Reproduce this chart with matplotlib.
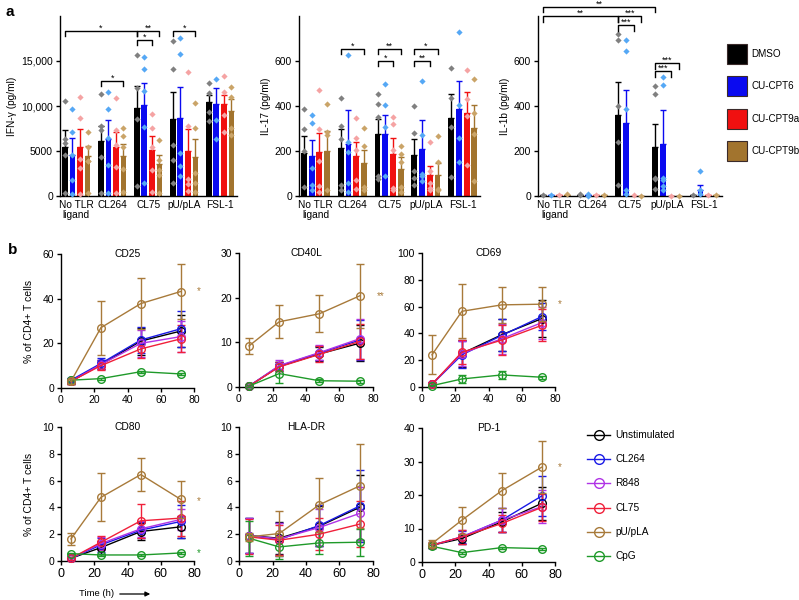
import numpy as np
import matplotlib
matplotlib.use("Agg")
import matplotlib.pyplot as plt
from matplotlib.patches import Rectangle, FancyArrowPatch
from matplotlib.lines import Line2D

plt.rcParams['font.family'] = ['Liberation Sans', 'DejaVu Sans']

W, H = 799, 600

# ---------------- Panel a data ----------------
groups_a = ["No TLR\nligand", "CL264", "CL75", "pU/pLA", "FSL-1"]
treatments = ["DMSO", "CU-CPT6", "CU-CPT9a", "CU-CPT9b"]
bar_colors = ["#000000", "#0a0af0", "#f01010", "#a2742e"]
dot_colors = ["#808080", "#55a8f5", "#f5a3a3", "#caa468"]

ifn_mean = [[5500, 6100, 9800, 8500, 10400],
            [4600, 6300, 10100, 8700, 10200],
            [5500, 5400, 5100, 5000, 10200],
            [4400, 4500, 3600, 4300, 9400]]
ifn_err = [[1800, 1700, 2400, 3000, 800],
           [1800, 2100, 2500, 3400, 1800],
           [2000, 1700, 1600, 2500, 1000],
           [1200, 1300, 1000, 2000, 1400]]
ifn_dots = [[[10600, 6300, 5900, 4600, 300], [11300, 7800, 7300, 4300, 300], [15700, 12000, 8500, 1100], [17200, 14100, 5700, 4000, 1400], [12500, 11400, 9300, 8300]],
            [[9700, 7100, 4600, 1800, 200], [11500, 9700, 6500, 3500, 300], [15400, 14100, 11700, 7700, 1400], [17600, 15800, 4800, 3300, 2200], [13000, 8400, 6300]],
            [[11000, 8700, 4100, 3100, 200], [10900, 7300, 5700, 3200, 300], [9100, 7600, 5500, 2900, 500], [13800, 7800, 1900, 1300, 600], [13300, 11500, 9000, 7100]],
            [[7100, 5500, 3900, 3900, 300], [7600, 6700, 5400, 3000, 400], [6200, 4000, 2900, 2300, 300], [10300, 7600, 2600, 1500, 500], [12100, 11000, 7600, 6800]]]

il17_mean = [[193, 213, 274, 184, 348],
             [176, 230, 277, 207, 385],
             [196, 178, 185, 92, 370],
             [200, 148, 121, 95, 304]]
il17_err = [[72, 86, 70, 71, 104],
            [71, 151, 82, 129, 126],
            [85, 62, 73, 40, 92],
            [89, 55, 52, 52, 102]]
il17_dots = [[[388, 296, 200, 40], [435, 310, 253, 50, 25], [452, 407, 350, 90, 75], [398, 282, 112, 78, 48], [567, 437, 308, 85]],
             [[358, 325, 125, 50, 25], [628, 240, 195, 60, 20], [496, 406, 307, 90], [512, 273, 100, 90, 65], [728, 405, 258, 150]],
             [[469, 296, 155, 45, 20], [347, 260, 205, 70, 30], [353, 318, 205, 35, 25], [240, 110, 60, 35, 25], [560, 432, 355, 140]],
             [[410, 285, 270, 25], [302, 222, 40, 25], [224, 188, 150, 40, 20], [265, 152, 30, 25], [522, 370, 275, 65]]]

il1b_mean = [[3, 5, 358, 218, 3],
             [3, 4, 324, 233, 25],
             [3, 3, 2, 1, 4],
             [5, 3, 1, 1, 6]]
il1b_err = [[0, 0, 149, 103, 0],
            [0, 0, 149, 148, 25],
            [0, 0, 0, 0, 0],
            [0, 0, 0, 0, 0]]
il1b_dots = [[[3], [10, 3], [722, 692, 400, 240, 50], [490, 452, 80, 75, 30], [4]],
             [[3], [8, 2], [692, 645, 385, 25, 10], [530, 493, 82, 70, 45, 25], [113, 25, 10]],
             [[3], [3], [3], [2], [4]],
             [[7], [4], [2], [2], [5]]]

# ---------------- Panel b data ----------------
times = [6, 24, 48, 72]
stim = ["Unstimulated", "CL264", "R848", "CL75", "pU/pLA", "CpG"]
line_colors = ["#000000", "#1a1ae6", "#b033e6", "#f0203a", "#a87a3a", "#1f9a2a"]

markers_b = {
    "CD25": dict(ylim=60, yt=[0, 20, 40, 60],
                 mean=[[3, 10.5, 21, 25.5], [3.5, 11, 21.5, 26.5], [3, 10.5, 20, 23], [3, 10, 17.5, 22], [3, 27, 37.8, 43.2], [3.5, 4.2, 7.3, 6.3]],
                 err=[[1, 2, 6, 7], [1, 2.5, 6, 8], [1, 2, 6, 7], [1, 2, 4, 6], [1, 12, 11.5, 12.3], [0.5, 0.5, 0.5, 0.5]]),
    "CD40L": dict(ylim=30, yt=[0, 10, 20, 30],
                  mean=[[0.2, 4.6, 7.4, 9.8], [0.2, 4.7, 7.6, 10.5], [0.2, 4.8, 7.7, 10.8], [0.2, 4.5, 7.3, 10.2], [9.2, 14.6, 16.4, 20.4], [0.2, 3.0, 1.4, 1.3]],
                  err=[[0.2, 1, 1.5, 4], [0.2, 1, 1.5, 4.5], [0.2, 1.2, 1.6, 4.5], [0.2, 1, 1.8, 4], [1.8, 3.7, 4.1, 7.2], [0.2, 2.2, 0.3, 0.3]]),
    "CD69": dict(ylim=100, yt=[0, 20, 40, 60, 80, 100],
                 mean=[[2, 25, 39, 51], [2, 24, 38.5, 52.5], [2, 25, 36, 48], [2, 26, 35, 46], [24, 56.5, 61.3, 61.8], [1, 6, 9, 7.3]],
                 err=[[1, 10, 12, 14], [1, 10, 12, 10], [1, 9, 11, 12], [1, 9, 11, 12], [14.5, 20, 13.5, 12.7], [0.5, 3, 3, 1]]),
    "CD80": dict(ylim=10, yt=[0, 2, 4, 6, 8, 10],
                 mean=[[0.2, 1.0, 2.2, 2.55], [0.2, 1.2, 2.3, 2.95], [0.2, 1.3, 2.4, 3.1], [0.2, 1.4, 3.0, 3.2], [1.65, 4.75, 6.45, 4.6], [0.55, 0.45, 0.45, 0.6]],
                 err=[[0.1, 0.5, 0.6, 0.8], [0.1, 0.5, 0.6, 1.2], [0.1, 0.5, 0.6, 0.8], [0.1, 0.5, 1.25, 1.3], [0.45, 1.8, 1.2, 1.4], [0.05, 0.05, 0.05, 0.05]]),
    "HLA-DR": dict(ylim=10, yt=[0, 2, 4, 6, 8, 10],
                   mean=[[1.9, 1.7, 2.6, 4.0], [1.9, 1.6, 2.65, 4.1], [1.9, 1.65, 2.5, 3.55], [1.8, 1.55, 2.0, 2.75], [1.8, 2.05, 4.2, 5.6], [1.7, 1.05, 1.35, 1.4]],
                   err=[[1.3, 1.2, 1.5, 2.4], [1.3, 1.25, 1.5, 2.7], [1.3, 1.2, 1.4, 2.0], [1.3, 1.1, 1.2, 1.7], [0.3, 1.65, 2.0, 3.1], [1.3, 0.9, 0.8, 1.0]]),
    "PD-1": dict(ylim=40, yt=[0, 10, 20, 30, 40],
                 mean=[[5, 7, 12, 17.5], [5, 7.5, 12.5, 19.7], [5, 7.5, 12.5, 16.5], [5, 7.5, 11.5, 16.3], [5.5, 12.5, 21.3, 28.3], [4.7, 2.8, 4.3, 4.0]],
                 err=[[0.8, 1.5, 3, 5], [0.8, 1.8, 3.5, 6], [0.8, 2, 3.5, 5], [0.8, 2, 2.5, 4], [1, 4, 5.2, 7.7], [0.3, 0.3, 0.3, 0.3]]),
}

fig = plt.figure(figsize=(W / 100, H / 100), dpi=100)


def add_ax(left, right, top, bottom):
    return fig.add_axes([left / W, 1 - bottom / H, (right - left) / W, (bottom - top) / H])


def style_ax(ax, fs=7.5):
    for s in ["top", "right"]:
        ax.spines[s].set_visible(False)
    for s in ["left", "bottom"]:
        ax.spines[s].set_linewidth(1.0)
    ax.tick_params(direction="out", length=3, width=1.0, labelsize=fs, pad=2)


offsets = [-0.315, -0.105, 0.105, 0.315]
bw = 0.16


def bar_panel(ax, mean, err, dots, ymax, yticks, yticklabels, ylabel):
    x = np.arange(len(groups_a))
    for t in range(4):
        xs = x + offsets[t]
        ax.bar(xs, mean[t], width=bw, color=bar_colors[t], zorder=2)
        ax.errorbar(xs, mean[t], yerr=[np.zeros(len(x)), err[t]], fmt="none",
                    ecolor=bar_colors[t], elinewidth=1.0, capsize=2, capthick=1.0, zorder=2)
        for g in range(len(x)):
            d = dots[t][g]
            ax.scatter([xs[g]] * len(d), d, marker="D", s=10, color=dot_colors[t],
                       linewidths=0, zorder=3, clip_on=False)
    ax.set_xlim(-0.45, 4.47)
    ax.set_ylim(0, ymax)
    ax.set_xticks(x)
    ax.set_xticklabels(groups_a, linespacing=1.0)
    ax.set_yticks(yticks)
    ax.set_yticklabels(yticklabels)
    ax.set_ylabel(ylabel, fontsize=7.3, labelpad=3)
    style_ax(ax)
    ax.tick_params(axis="x", length=0, labelsize=7.3, pad=3)


def bracket(ax, g1, t1, g2, t2, y, h, label):
    x1 = g1 + offsets[t1]
    x2 = g2 + offsets[t2]
    ax.plot([x1, x1, x2, x2], [y - h, y, y, y - h], color="black", lw=1.0, clip_on=False, zorder=4)
    ax.annotate(label, xy=((x1 + x2) / 2, y), xytext=(0, 2.2), textcoords="offset points",
                ha="center", va="center", fontsize=6.5, annotation_clip=False)


# IFN-gamma
ax1 = add_ax(60, 237, 16, 196)
bar_panel(ax1, ifn_mean, ifn_err, ifn_dots, 20000, [0, 5000, 10000, 15000],
          ["0", "5000", "10,000", "15,000"], "IFN-γ (pg/ml)")
bracket(ax1, 0, 0, 2, 0, 18300, 550, "*")
bracket(ax1, 2, 0, 2, 3, 18300, 550, "**")
bracket(ax1, 2, 0, 2, 2, 17300, 550, "*")
bracket(ax1, 3, 0, 3, 3, 18300, 550, "*")
bracket(ax1, 1, 0, 1, 3, 12800, 550, "*")

# IL-17
ax2 = add_ax(299, 480, 16, 196)
bar_panel(ax2, il17_mean, il17_err, il17_dots, 800, [0, 200, 400, 600],
          ["0", "200", "400", "600"], "IL-17 (pg/ml)")
bracket(ax2, 1, 0, 1, 3, 653, 22, "*")
bracket(ax2, 2, 0, 2, 3, 653, 22, "**")
bracket(ax2, 2, 0, 2, 2, 600, 22, "*")
bracket(ax2, 3, 0, 3, 3, 653, 22, "*")
bracket(ax2, 3, 0, 3, 2, 600, 22, "**")

# IL-1b
ax3 = add_ax(538, 722, 16, 196)
bar_panel(ax3, il1b_mean, il1b_err, il1b_dots, 800, [0, 200, 400, 600],
          ["0", "200", "400", "600"], "IL-1b (pg/ml)")
bracket(ax3, 0, 0, 3, 0, 838, 18, "**")
bracket(ax3, 0, 0, 2, 0, 800, 25, "**")
bracket(ax3, 2, 0, 2, 3, 800, 25, "***")
bracket(ax3, 2, 0, 2, 2, 760, 25, "***")
bracket(ax3, 3, 0, 3, 3, 591, 25, "***")
bracket(ax3, 3, 0, 3, 2, 556, 25, "***")

# Legend panel a
for i, (name, c) in enumerate(zip(treatments, bar_colors)):
    yc = 54 + i * 32.3
    fig.patches.append(Rectangle((727 / W, 1 - (yc + 10) / H), 20 / W, 20 / H,
                                 transform=fig.transFigure, facecolor=c,
                                 edgecolor="#3a2a2a", linewidth=0.8))
    fig.text(751 / W, 1 - yc / H, name, ha="left", va="center", fontsize=7.1)

fig.text(5 / W, 1 - 12 / H, "a", fontsize=11, fontweight="bold", ha="left", va="center")
fig.text(8 / W, 1 - 250 / H, "b", fontsize=11, fontweight="bold", ha="left", va="center")

# ---------------- Panel b ----------------
layout = {
    "CD25": (61, 194, 254, 388),
    "CD40L": (239, 373, 253, 387),
    "CD69": (422, 555, 253, 387),
    "CD80": (61, 194, 427, 561),
    "HLA-DR": (239, 373, 427, 561),
    "PD-1": (422, 555, 428, 562),
}
stars = {
    "CD25": [("*", 43.2, 4)],
    "CD40L": [("**", 20.4, 4)],
    "CD69": [("*", 61.8, 4)],
    "CD80": [("*", 4.5, 4), ("*", 0.6, 5)],
    "PD-1": [("*", 28.3, 4)],
}

for name, (l, r, t, b) in layout.items():
    ax = add_ax(l, r, t, b)
    d = markers_b[name]
    for i in range(6):
        ax.errorbar(times, d["mean"][i], yerr=d["err"][i], color=line_colors[i], lw=1.0,
                    marker="o", ms=5.5, mfc="none", mec=line_colors[i], mew=1.0,
                    elinewidth=1.0, capsize=3, capthick=1.0, clip_on=False, zorder=3 + (i == 4))
    ax.set_xlim(0, 80)
    ax.set_ylim(0, d["ylim"])
    ax.set_xticks([0, 20, 40, 60, 80])
    ax.set_yticks(d["yt"])
    style_ax(ax)
    bottom_row = name in ("CD80", "HLA-DR", "PD-1")
    ax.tick_params(axis="x", labelsize=9 if bottom_row else 7.5)
    ax.tick_params(axis="y", labelsize=7.5)
    ax.text(0.5, 1.0, name, transform=ax.transAxes, ha="center", va="center", fontsize=7.4)
    if name in ("CD25", "CD80"):
        ax.set_ylabel("% of CD4+ T cells", fontsize=7.5, labelpad=6)
    for s, yv, ci in stars.get(name, []):
        ax.text(82, yv, s, color=line_colors[ci], fontsize=7, ha="left", va="center", clip_on=False)

fig.text(79 / W, 1 - 594 / H, "Time (h)", fontsize=6.8, ha="left", va="center")
fig.add_artist(FancyArrowPatch((117 / W, 1 - 594 / H), (153 / W, 1 - 594 / H),
                               transform=fig.transFigure, arrowstyle="-|>",
                               mutation_scale=7, lw=0.9, color="black"))

# Legend panel b
for i, (name, c) in enumerate(zip(stim, line_colors)):
    yc = 435 + i * 24.2
    fig.add_artist(Line2D([587 / W, 610 / W], [1 - yc / H, 1 - yc / H], color=c, lw=1.0,
                          transform=fig.transFigure))
    fig.add_artist(Line2D([598.5 / W], [1 - yc / H], color=c, marker="o", ms=7, mfc="none",
                          mew=1.0, transform=fig.transFigure))
    fig.text(615 / W, 1 - yc / H, name, ha="left", va="center", fontsize=7.3)

fig.savefig("out.png", dpi=100)
